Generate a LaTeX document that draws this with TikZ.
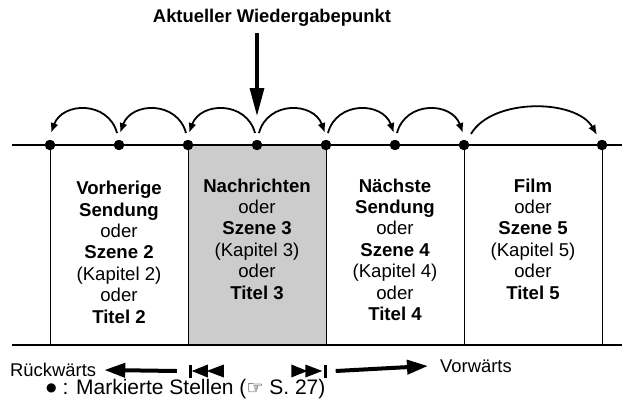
\documentclass[tikz,border=0pt]{standalone}
\usepackage{fontspec}
\setmainfont{Liberation Sans}
\newfontfamily\dejavu{DejaVu Sans}
\usetikzlibrary{arrows.meta}

\tikzset{
  mark dot/.style={circle, fill, inner sep=0pt, minimum size=10pt},
  timeline/.style={line width=2pt},
  divider/.style={line width=0.8pt},
  jump/.style={line width=1.8pt, -{Latex[length=10pt,width=8pt]}},
  bigarrow/.style={line width=4pt, -{Triangle[length=21pt,width=14pt]}},
  seg text/.style={anchor=north, align=center, inner sep=0pt,
    font=\fontsize{18.6}{21.4}\selectfont},
  plain text/.style={inner sep=0pt, font=\fontsize{18.4}{21.4}\selectfont},
  icon/.style={inner sep=0pt, minimum height=13pt}
}

\begin{document}
\begin{tikzpicture}[x=1pt, y=1pt]
  \useasboundingbox (0,0) rectangle (622,-399);
  % current segment
  \fill[gray!40] (188,-145) rectangle (326,-345);

  \coordinate (tl) at (12,-145);
  \coordinate (tr) at (622,-145);
  \coordinate (bl) at (12,-345);
  \coordinate (br) at (622,-345);

  \node[mark dot] (d1) at (50,-145) {};
  \node[mark dot] (d2) at (119,-145) {};
  \node[mark dot] (d3) at (188,-145) {};
  \node[mark dot] (d4) at (257,-145) {};
  \node[mark dot] (d5) at (326,-145) {};
  \node[mark dot] (d6) at (395,-145) {};
  \node[mark dot] (d7) at (464,-145) {};
  \node[mark dot] (d8) at (602,-145) {};

  \draw[divider] (d1.center) -- (d1 |- bl);
  \draw[divider] (d3.center) -- (d3 |- bl);
  \draw[divider] (d5.center) -- (d5 |- bl);
  \draw[divider] (d7.center) -- (d7 |- bl);
  \draw[divider] (d8.center) -- (d8 |- bl);
  \draw[timeline] (tl) -- (tr);
  \draw[timeline] (bl) -- (br);
  % redraw dots over the line
  \foreach \d in {d1,d2,d3,d4,d5,d6,d7,d8}
    \fill (\d.center) circle (5.2pt);

  % segments
  \node[seg text] (vorher) at (119,-181)
    {\textbf{Vorherige}\\\textbf{Sendung}\\oder\\\textbf{Szene 2}\\(Kapitel 2)\\oder\\\textbf{Titel 2}};
  \node[seg text] (jetzt) at (257,-178.5)
    {\textbf{Nachrichten}\\oder\\\textbf{Szene 3}\\(Kapitel 3)\\oder\\\textbf{Titel 3}};
  \node[seg text] (naechst) at (395,-178.5)
    {\textbf{Nächste}\\\textbf{Sendung}\\oder\\\textbf{Szene 4}\\(Kapitel 4)\\oder\\\textbf{Titel 4}};
  \node[seg text] (film) at (533,-178.5)
    {\textbf{Film}\\oder\\\textbf{Szene 5}\\(Kapitel 5)\\oder\\\textbf{Titel 5}};

  % current position
  \node[plain text, font=\fontsize{18.4}{21.4}\selectfont\bfseries] (title) at (272,-18)
    {Aktueller Wiedergabepunkt};
  \coordinate (playpos) at (257,-33);
  \draw[line width=3.2pt, -{Triangle[length=28pt,width=14pt]}]
    (playpos) -- ([yshift=29pt]d4.center);

  % skips
  \draw[jump] ([shift={(-2,12)}]d2.center) to[out=105,in=70,looseness=1.3] ([shift={(1,12)}]d1.center);
  \draw[jump] ([shift={(-2,12)}]d3.center) to[out=105,in=70,looseness=1.3] ([shift={(1,12)}]d2.center);
  \draw[jump] ([shift={(-2,12)}]d4.center) to[out=105,in=70,looseness=1.3] ([shift={(1,12)}]d3.center);
  \draw[jump] ([shift={(2,12)}]d4.center) to[out=75,in=110,looseness=1.3] ([shift={(-1,12)}]d5.center);
  \draw[jump] ([shift={(2,12)}]d5.center) to[out=75,in=110,looseness=1.3] ([shift={(-1,12)}]d6.center);
  \draw[jump] ([shift={(2,12)}]d6.center) to[out=75,in=110,looseness=1.3] ([shift={(-1,12)}]d7.center);
  \draw[jump] ([shift={(7,11)}]d7.center) to[out=60,in=120,looseness=0.85] ([shift={(-5,10)}]d8.center);

  % direction keys
  \node[plain text, anchor=west] (rueck) at (10,-370) {Rückwärts};
  \node[plain text, anchor=west] (vor) at (440,-366) {Vorwärts};
  \node[icon, minimum width=36pt] (prev) at (207,-371) {};
  \node[icon, minimum width=35pt] (next) at (309,-371) {};
  \fill (prev.west) ++(0,-6.5) rectangle ++(3,13);
  \fill ([xshift=3pt]prev.west) -- ++(16,6.5) -- ++(0,-13) -- cycle;
  \fill ([xshift=18pt]prev.west) -- ++(17,6.5) -- ++(0,-13) -- cycle;
  \fill (next.west) ++(0,6.5) -- ++(16,-6.5) -- ++(-16,-6.5) -- cycle;
  \fill ([xshift=14pt]next.west) ++(0,6.5) -- ++(17,-6.5) -- ++(-17,-6.5) -- cycle;
  \fill (next.east) ++(-3,-6.5) rectangle ++(3,13);
  \draw[bigarrow] ([xshift=-12pt]prev.west) -- ([xshift=8pt]rueck.east);
  \draw[bigarrow] ([xshift=9pt]next.east) -- ([xshift=-12pt]vor.west);

  % legend
  \node[plain text, anchor=west, font=\fontsize{21}{24}\selectfont] (legend) at (46,-389)
    {\raisebox{2.5pt}{\dejavu\fontsize{12}{12}\selectfont ●} : Markierte Stellen ({\dejavu\fontsize{19}{19}\selectfont ☞} S. 27)};
\end{tikzpicture}
\end{document}
